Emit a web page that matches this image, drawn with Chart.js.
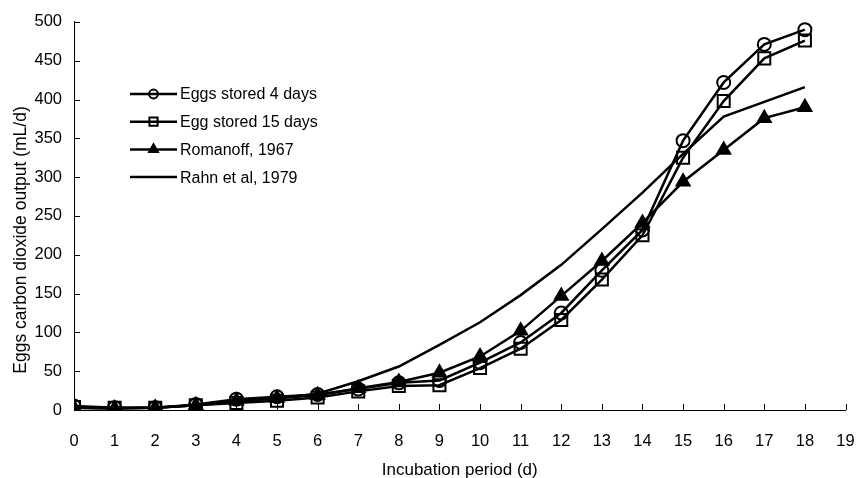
<!DOCTYPE html>
<html>
<head>
<meta charset="utf-8">
<script src="https://cdn.jsdelivr.net/npm/chart.js@4"></script>
<style>
  html, body { margin: 0; padding: 0; background: #fff; }
  #wrap { width: 856px; height: 478px; }
</style>
</head>
<body>
<div id="wrap"><canvas id="chart" width="856" height="478"></canvas></div>
<script>
// incubation day
var days = [0, 1, 2, 3, 4, 5, 6, 7, 8, 9, 10, 11, 12, 13, 14, 15, 16, 17, 18];
// CO2 output (mL/d)
var stored4  = [5, 3, 3, 7, 14, 17, 20, 27, 35, 38, 61, 87, 125, 180, 232, 347, 422, 471, 490];
var stored15 = [4, 3, 3, 6, 9, 12, 16, 24, 31, 32, 54, 79, 116, 168, 225, 325, 398, 453, 476];
var romanoff = [3, 2, 3, 6, 12, 15, 19, 28, 36, 48, 69, 102, 147, 192, 241, 294, 335, 376, 390];
var rahn     = [3, 2, 3, 6, 11, 15, 21, 37, 56, 84, 113, 148, 187, 233, 280, 330, 378, 397, 416];
var xTicks = [0, 1, 2, 3, 4, 5, 6, 7, 8, 9, 10, 11, 12, 13, 14, 15, 16, 17, 18, 19];
var yTicks = [0, 50, 100, 150, 200, 250, 300, 350, 400, 450, 500];
var yTitle = 'Eggs carbon dioxide output (mL/d)';

var font = "'Liberation Sans', Arial, sans-serif";

function pts(arr) {
  return arr.map(function (v, i) { return { x: days[i], y: v }; });
}

function series(label, data, style, radius, fill) {
  return {
    label: label,
    data: pts(data),
    borderColor: '#000',
    borderWidth: 2.5,
    pointStyle: style,
    pointRadius: radius,
    pointBorderWidth: 2,
    pointBorderColor: '#000',
    pointBackgroundColor: fill,
    tension: 0
  };
}

// ticks pointing into the plot, like the original
var innerTicks = {
  id: 'innerTicks',
  afterDraw: function (chart) {
    var ctx = chart.ctx, x = chart.scales.x, y = chart.scales.y;
    ctx.save();
    ctx.strokeStyle = '#000';
    ctx.lineWidth = 1;
    ctx.beginPath();
    xTicks.forEach(function (t) {
      var px = Math.round(x.getPixelForValue(t)) + 0.5;
      ctx.moveTo(px, y.bottom);
      ctx.lineTo(px, y.bottom - 6);
    });
    yTicks.forEach(function (t) {
      var py = Math.round(y.getPixelForValue(t)) + 0.5;
      ctx.moveTo(x.left, py);
      ctx.lineTo(x.left + 6, py);
    });
    ctx.stroke();
    ctx.restore();
  }
};

// y title sits a bit below the middle of the axis in the original
var sideTitle = {
  id: 'sideTitle',
  afterDraw: function (chart) {
    var ctx = chart.ctx;
    ctx.save();
    ctx.translate(25.5, 240);
    ctx.rotate(-Math.PI / 2);
    ctx.fillStyle = '#000';
    ctx.font = '17.5px ' + font;
    ctx.textAlign = 'center';
    ctx.textBaseline = 'alphabetic';
    ctx.fillText(yTitle, 0, 0);
    ctx.restore();
  }
};

// legend box inside the plot area
var insideLegend = {
  id: 'insideLegend',
  afterDraw: function (chart) {
    var ctx = chart.ctx;
    var x0 = 130, x1 = 177, y0 = 94, gap = 27.7;
    ctx.save();
    chart.data.datasets.forEach(function (ds, i) {
      var yy = y0 + i * gap;
      ctx.strokeStyle = '#000';
      ctx.lineWidth = 2.5;
      ctx.beginPath();
      ctx.moveTo(x0, yy);
      ctx.lineTo(x1, yy);
      ctx.stroke();
      if (ds.pointRadius > 0) {
        ctx.lineWidth = 2;
        ctx.fillStyle = ds.pointBackgroundColor;
        Chart.helpers.drawPoint(ctx, {
          pointStyle: ds.pointStyle, radius: ds.pointRadius * 0.68,
          borderWidth: 2, rotation: 0
        }, (x0 + x1) / 2, yy);
      }
      ctx.fillStyle = '#000';
      ctx.font = '16px ' + font;
      ctx.textBaseline = 'middle';
      ctx.fillText(ds.label, x1 + 3, yy + 1);
    });
    ctx.restore();
  }
};

new Chart(document.getElementById('chart'), {
  type: 'line',
  data: {
    datasets: [
      series('Eggs stored 4 days', stored4, 'circle', 6.5, 'rgba(0,0,0,0)'),
      series('Egg stored 15 days', stored15, 'rect', 8.5, 'rgba(0,0,0,0)'),
      series('Romanoff, 1967', romanoff, 'triangle', 7.5, '#000'),
      series('Rahn et al, 1979', rahn, 'circle', 0, '#000')
    ]
  },
  plugins: [innerTicks, sideTitle, insideLegend],
  options: {
    responsive: false,
    animation: false,
    layout: { padding: { top: 21, right: 10, left: 0, bottom: 0 } },
    plugins: { legend: { display: false }, tooltip: { enabled: false } },
    scales: {
      x: {
        type: 'linear',
        min: 0, max: 19,
        afterBuildTicks: function (s) { s.ticks = xTicks.map(function (v) { return { value: v }; }); },
        afterFit: function (s) { s.height = 68; s.paddingRight = 0; s.paddingLeft = 0; },
        grid: { display: false, drawTicks: false },
        border: { display: true, color: '#000', width: 1 },
        ticks: { color: '#000', font: { family: font, size: 16.5 }, padding: 22, maxRotation: 0, autoSkip: false },
        title: { display: true, text: 'Incubation period (d)', color: '#000', font: { family: font, size: 17 }, padding: { top: 11, bottom: -3 } }
      },
      y: {
        min: 0, max: 500,
        afterBuildTicks: function (s) { s.ticks = yTicks.map(function (v) { return { value: v }; }); },
        afterFit: function (s) { s.width = 74; },
        grid: { display: false, drawTicks: false },
        border: { display: true, color: '#000', width: 1 },
        ticks: { color: '#000', font: { family: font, size: 16.5 }, padding: 12 }
      }
    }
  }
});
</script>
</body>
</html>
